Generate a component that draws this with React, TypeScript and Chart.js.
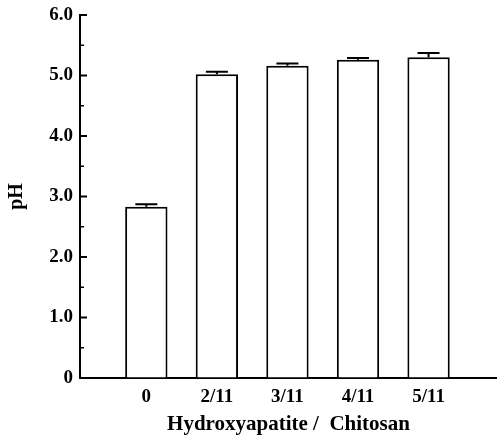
import React, { useEffect, useRef } from "react";
import { Chart, registerables } from "chart.js";

Chart.register(...registerables);

const categories = ["0", "2/11", "3/11", "4/11", "5/11"];
const phValues = [2.83, 5.02, 5.16, 5.26, 5.3];
const phErrors = [0.04, 0.04, 0.04, 0.03, 0.07];
const yTickValues = [0, 1, 2, 3, 4, 5, 6];

const FONT = "'Liberation Serif', 'Times New Roman', serif";

const points = phValues.map((v, i) => ({ x: i, y: v }));

const errorBarPlugin = {
  id: "errorBars",
  afterDatasetsDraw(chart: any) {
    const ctx = chart.ctx;
    const meta = chart.getDatasetMeta(0);
    const y = chart.scales.y;
    ctx.save();
    ctx.strokeStyle = "#000";
    ctx.lineWidth = 2;
    meta.data.forEach((el: any, i: number) => {
      const v = phValues[i];
      const e = phErrors[i];
      if (v == null || e == null) return;
      const x = el.x;
      const yTop = y.getPixelForValue(v + e);
      const yBar = y.getPixelForValue(v);
      ctx.beginPath();
      ctx.moveTo(x, yBar);
      ctx.lineTo(x, yTop);
      ctx.moveTo(x - 11, yTop);
      ctx.lineTo(x + 11, yTop);
      ctx.stroke();
    });
    ctx.restore();
  },
};

const inwardTicksPlugin = {
  id: "inwardTicks",
  afterDraw(chart: any) {
    const ctx = chart.ctx;
    const y = chart.scales.y;
    const x0 = chart.chartArea.left;
    ctx.save();
    ctx.strokeStyle = "#000";
    for (let k = 1; k <= 12; k++) {
      const v = k * 0.5;
      const major = k % 2 === 0;
      const py = y.getPixelForValue(v);
      ctx.lineWidth = major ? 2 : 1.5;
      ctx.beginPath();
      ctx.moveTo(x0 - 1, py);
      ctx.lineTo(x0 + (major ? 7 : 4), py);
      ctx.stroke();
    }
    ctx.restore();
  },
};

export default function App() {
  const ref = useRef<HTMLCanvasElement>(null);
  useEffect(() => {
    const chart = new Chart(ref.current as HTMLCanvasElement, {
      type: "bar",
      data: {
        datasets: [
          {
            data: points as any,
            backgroundColor: "#fff",
            borderColor: "#000",
            borderWidth: 2,
            categoryPercentage: 1,
            barPercentage: 0.6,
          },
        ],
      },
      options: {
        animation: false,
        responsive: true,
        maintainAspectRatio: false,
        layout: { padding: { top: 15, right: 0, left: 0, bottom: 0 } },
        plugins: { legend: { display: false }, tooltip: { enabled: false } },
        scales: {
          x: {
            type: "linear",
            min: -0.94,
            max: 4.97,
            offset: false,
            afterBuildTicks: (s: any) => {
              s.ticks = categories.map((_, i) => ({ value: i }));
            },
            grid: { display: true, drawOnChartArea: false, drawTicks: false },
            border: { display: true, color: "#000", width: 2 },
            ticks: {
              color: "#000",
              padding: 8,
              maxRotation: 0,
              autoSkip: false,
              font: { family: FONT, size: 19, weight: "bold" },
              callback: (v: any) => categories[Math.round(Number(v))] ?? "",
            },
            title: {
              display: true,
              text: "Hydroxyapatite /  Chitosan",
              color: "#000",
              padding: { top: 0, bottom: 1 },
              font: { family: FONT, size: 21, weight: "bold" },
            },
            afterFit: (s: any) => {
              s.height = 60;
            },
          },
          y: {
            min: 0,
            max: 6,
            afterBuildTicks: (s: any) => {
              s.ticks = yTickValues.map((v) => ({ value: v }));
            },
            grid: {
              display: true,
              drawOnChartArea: false,
              drawTicks: true,
              tickLength: 7,
              tickColor: "rgba(0,0,0,0)",
            },
            border: { display: true, color: "#000", width: 2 },
            ticks: {
              color: "#000",
              padding: 0,
              font: { family: FONT, size: 19, weight: "bold" },
              callback: (v: any) => (Number(v) === 0 ? "0" : Number(v).toFixed(1)),
            },
            title: {
              display: true,
              text: "pH",
              color: "#000",
              padding: { top: 5, bottom: 0 },
              font: { family: FONT, size: 20, weight: "bold" },
            },
            afterFit: (s: any) => {
              s.width = 80;
            },
          },
        },
      },
      plugins: [errorBarPlugin, inwardTicksPlugin],
    });
    return () => chart.destroy();
  }, []);
  return (
    <div style={{ position: "fixed", left: 0, top: 0, width: 497, height: 438, background: "#fff" }}>
      <canvas ref={ref} />
    </div>
  );
}
